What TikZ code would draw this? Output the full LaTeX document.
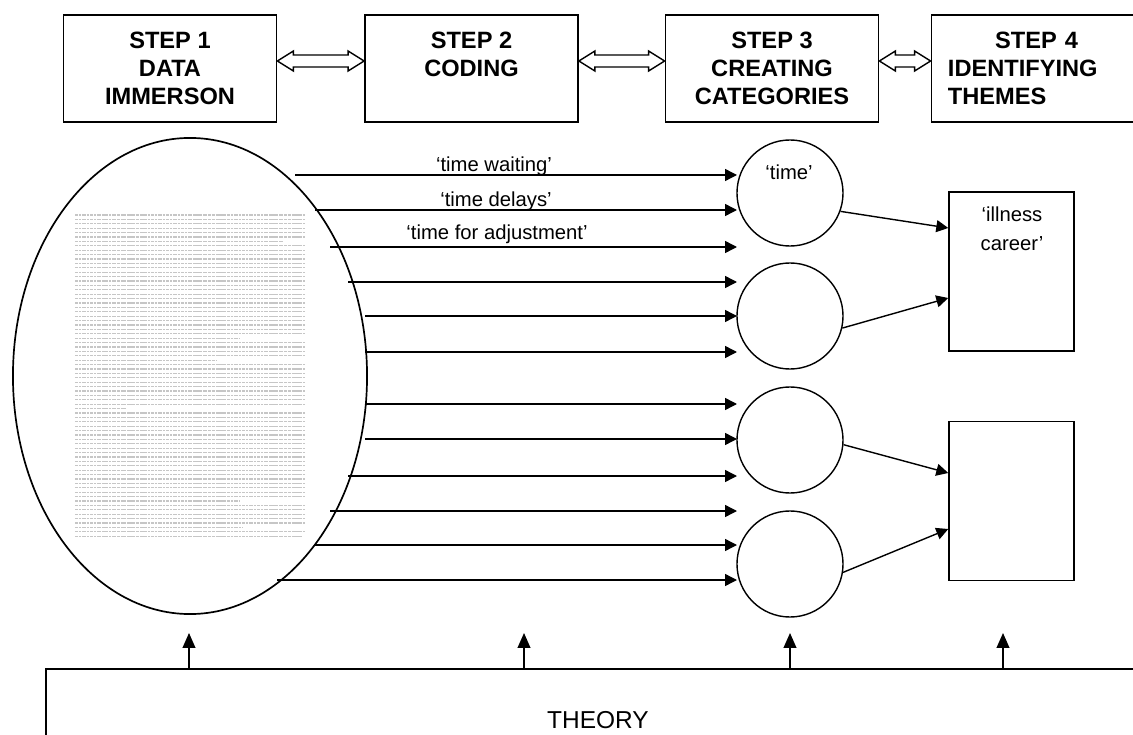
\documentclass[tikz,border=0pt]{standalone}
\usepackage{fontspec}
\setmainfont{Liberation Sans}
\usetikzlibrary{arrows.meta,calc,shapes.geometric}

% hollow two-headed arrow between two step boxes
\newcommand{\linkarrow}[2]{%
  \coordinate (la) at ($(#1.east)+(0,-7.5)$);
  \coordinate (lb) at ($(#2.west)+(0,-7.5)$);
  \draw[linkshape] (la) -- ++(16,-10) -- ++(0,4) -- ($(lb)+(-16,-6)$) -- ++(0,-4) -- (lb)
    -- ++(-16,10) -- ++(0,-4) -- ($(la)+(16,6)$) -- ++(0,4) -- cycle;}

\begin{document}
\begin{tikzpicture}[x=0.025cm,y=-0.025cm,
  stepbox/.style={draw,line width=1.1pt,minimum width=5.33cm,minimum height=2.68cm,align=center,
    font=\bfseries\fontsize{16.8}{19.8}\selectfont},
  linkshape/.style={draw,line width=1pt,fill=white,line join=miter},
  codearrow/.style={line width=1pt,-{Triangle[length=8.5pt,width=8.5pt]}},
  uparrow/.style={line width=1pt,-{Triangle[length=10.5pt,width=9pt]}},
  labeltext/.style={font=\fontsize{14.4}{20.6}\selectfont},
  catcircle/.style={draw,circle,line width=1pt,minimum size=2.65cm,inner sep=0pt},
  themebox/.style={draw,line width=1pt,minimum width=3.125cm,minimum height=3.975cm},
  textrow/.style={gray!45,line width=.8pt,dash pattern=on 2.2pt off .6pt on 1.4pt off .6pt on 3pt off .6pt on 1.8pt off .6pt}]
  \useasboundingbox (0,0) rectangle (1133,735);
  \clip (0,0) rectangle (1133,735);

  \node[stepbox] (step1) at (170,68.5) {STEP 1\\DATA\\IMMERSON};
  \node[stepbox] (step2) at (471.5,68.5) {STEP 2\\CODING\\\mbox{}};
  \node[stepbox] (step3) at (772,68.5) {STEP 3\\CREATING\\CATEGORIES};
  \node[stepbox,text width=4.5cm,align=left] (step4) at (1038,68.5) {\hspace*{1.18cm}STEP 4\\IDENTIFYING\\THEMES};
  \linkarrow{step1}{step2}
  \linkarrow{step2}{step3}
  \linkarrow{step3}{step4}

  % transcript
  \foreach \a/\b/\e in {0/6/283,7/28/240,29/33/217,34/44/127,45/65/240,66/71/243,72/73/302} {
    \foreach \r in {\a,...,\b} {
      \pgfmathsetmacro\xe{\r==\b ? \e : 305}
      \draw[textrow] (75,215+\r*4.4) -- (\xe,215+\r*4.4);
    }
  }
  \node[draw,ellipse,line width=1.2pt,minimum width=8.85cm,minimum height=11.9cm,inner sep=0pt] (data) at (190,376) {};

  \foreach \name/\y in {c1/193,c2/316,c3/440,c4/564} {
    \node[catcircle] (\name) at (790,\y) {};
  }
  \node[labeltext,anchor=base] (timelab) at (789,180) {‘time’};

  \node[themebox] (thA) at (1011.5,271.5) {};
  \node[themebox] (thB) at (1011.5,501) {};
  \node[labeltext,align=center,anchor=north,inner sep=0pt] (illlab) at (1012,207) {‘illness\\career’};

  \foreach \i/\x/\y in {1/295/175,2/315/210,3/330/247,4/348/282,5/365/316,6/365/352,
                        7/365/404,8/365/439,9/348/476,10/330/511,11/315/545,12/277/580} {
    \coordinate (s\i) at (\x,\y);
    \coordinate (e\i) at (737,\y);
    \draw[codearrow] (s\i) -- (e\i);
  }
  \node[labeltext,anchor=base] (lwait) at (494,172) {‘time waiting’};
  \node[labeltext,anchor=base] (ldelay) at (496,207) {‘time delays’};
  \node[labeltext,anchor=base] (ladjust) at (497,240) {‘time for adjustment’};

  \draw[codearrow] (c1.-20) -- (thA.west |- 0,228);
  \draw[codearrow] (c2.-13) -- (thA.west |- 0,298);
  \draw[codearrow] (c3.-5) -- (thB.west |- 0,473);
  \draw[codearrow] (c4.-9) -- (thB.west |- 0,529);

  \node[draw,line width=1.2pt,minimum width=27.6cm,minimum height=2.55cm,
    font=\fontsize{17.4}{20}\selectfont] (theory) at (598,720) {THEORY};
  \foreach \i/\x in {1/189,2/524,3/790,4/1003} {
    \coordinate (up\i) at (\x,633);
    \draw[uparrow] (theory.north -| up\i) -- (up\i);
  }
\end{tikzpicture}
\end{document}
